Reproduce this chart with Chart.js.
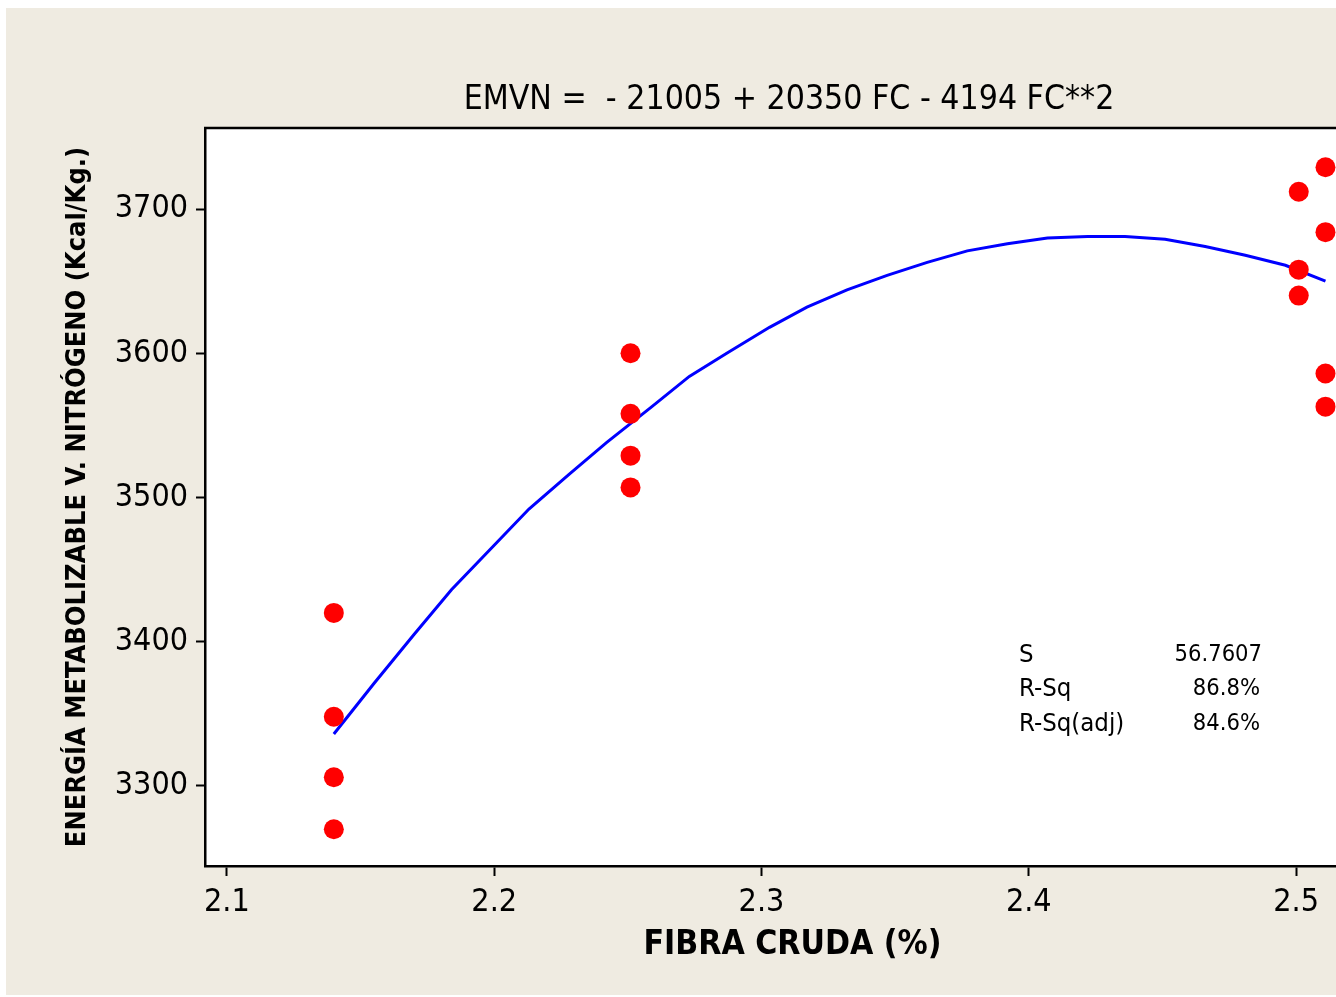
<!DOCTYPE html>
<html>
<head>
<meta charset="utf-8">
<script src="https://cdn.jsdelivr.net/npm/chart.js@4/dist/chart.umd.min.js"></script>
<style>
  html, body { margin: 0; padding: 0; background: #ffffff; overflow: hidden; }
  #wrap { position: absolute; left: 0; top: 0; width: 1390px; height: 997px; }
</style>
</head>
<body>
<div id="wrap"><canvas id="chart" width="1390" height="997"></canvas></div>
<script>
// observed points (fibra cruda %, EMVN kcal/kg)
const obsX = [2.14, 2.14, 2.14, 2.14, 2.251, 2.251, 2.251, 2.251, 2.501, 2.501, 2.501, 2.511, 2.511, 2.511, 2.511];
const obsY = [3420, 3348, 3306, 3270, 3600, 3558, 3529, 3507, 3712, 3658, 3640, 3729, 3684, 3586, 3563];

// fitted curve
const fitX = [2.140, 2.155, 2.170, 2.184, 2.199, 2.213, 2.228, 2.242, 2.259, 2.273, 2.287, 2.303, 2.317, 2.332, 2.347, 2.362, 2.377, 2.392, 2.407, 2.422, 2.436, 2.451, 2.466, 2.481, 2.496, 2.511];
const fitY = [3336, 3371, 3405, 3436, 3465, 3492, 3516, 3538, 3563, 3584, 3600, 3618, 3632, 3644, 3654, 3663, 3671, 3676, 3680, 3681, 3681, 3679, 3674, 3668, 3661, 3650];

const xTicks = [2.1, 2.2, 2.3, 2.4, 2.5];
const yTicks = [3300, 3400, 3500, 3600, 3700];

const titleText = "EMVN =  - 21005 + 20350 FC - 4194 FC**2";
const statLabels = ["S", "R-Sq", "R-Sq(adj)"];
const statValues = ["56.7607", "86.8%", "84.6%"];

const FONT = "'DejaVu Sans Condensed', 'DejaVu Sans', sans-serif";

const backgroundPlugin = {
    id: 'bg',
    beforeDraw(chart) {
        const ctx = chart.ctx;
        const a = chart.chartArea;
        ctx.save();
        ctx.fillStyle = '#ffffff';
        ctx.fillRect(0, 0, chart.width, chart.height);
        ctx.fillStyle = '#efebe1';
        ctx.fillRect(6, 8, chart.width - 6, 987);
        ctx.fillStyle = '#ffffff';
        ctx.fillRect(a.left, a.top, a.right - a.left, a.bottom - a.top);
        ctx.restore();
    }
};

const extrasPlugin = {
    id: 'extras',
    afterDraw(chart) {
        const ctx = chart.ctx;
        const a = chart.chartArea;
        ctx.save();
        // frame top + right
        ctx.strokeStyle = '#000000';
        ctx.lineWidth = 2.5;
        ctx.beginPath();
        ctx.moveTo(a.left - 1, a.top);
        ctx.lineTo(a.right, a.top);
        ctx.lineTo(a.right, a.bottom);
        ctx.stroke();

        // title
        ctx.fillStyle = '#000000';
        ctx.font = "33.5px " + FONT;
        ctx.textAlign = 'center';
        ctx.textBaseline = 'middle';
        ctx.fillText(titleText, 789, 100);

        // fit summary
        const rows = [655, 689, 724];
        statLabels.forEach((s, i) => {
            ctx.font = "25.5px " + FONT;
            ctx.textAlign = 'left';
            ctx.fillText(s, 1019, rows[i]);
            ctx.font = "23.5px " + FONT;
            ctx.textAlign = 'right';
            ctx.fillText(statValues[i], i === 0 ? 1262 : 1260, rows[i]);
        });
        ctx.restore();
    }
};

const pointsData = obsX.map((x, i) => ({ x: x, y: obsY[i] }));
const curveData = fitX.map((x, i) => ({ x: x, y: fitY[i] }));

new Chart(document.getElementById('chart'), {
    type: 'scatter',
    data: {
        datasets: [{
            label: 'Observado',
            data: pointsData,
            order: 0,
            pointRadius: 10,
            pointHoverRadius: 10,
            pointBackgroundColor: '#ff0000',
            pointBorderWidth: 0,
            borderColor: '#ff0000'
        }, {
            label: 'Ajuste',
            data: curveData,
            order: 1,
            showLine: true,
            pointRadius: 0,
            borderColor: '#0000ff',
            borderWidth: 3,
            tension: 0
        }]
    },
    options: {
        responsive: false,
        animation: false,
        layout: { padding: { left: 0, top: 128, right: 9, bottom: 0 } },
        plugins: {
            legend: { display: false },
            tooltip: { enabled: false }
        },
        scales: {
            x: {
                type: 'linear',
                min: 2.0918,
                max: 2.5314,
                afterFit: s => { s.height = 131; },
                afterBuildTicks: s => { s.ticks = xTicks.map(v => ({ value: v })); },
                grid: { drawOnChartArea: false, drawTicks: true, tickLength: 10, tickWidth: 2, tickColor: '#000000' },
                border: { display: true, color: '#000000', width: 2.5 },
                ticks: {
                    color: '#000000',
                    padding: 7,
                    maxRotation: 0,
                    font: { family: FONT, size: 32, lineHeight: 1.2 },
                    callback: v => v.toFixed(1)
                },
                title: {
                    display: true,
                    text: 'FIBRA CRUDA (%)',
                    color: '#000000',
                    font: { family: FONT, size: 33.5, weight: 'bold', lineHeight: 1.2 },
                    padding: { top: 0, bottom: 32 }
                }
            },
            y: {
                type: 'linear',
                min: 3244.5,
                max: 3756.2,
                afterFit: s => { s.width = 205; },
                afterBuildTicks: s => { s.ticks = yTicks.map(v => ({ value: v })); },
                grid: { drawOnChartArea: false, drawTicks: true, tickLength: 9, tickWidth: 2, tickColor: '#000000' },
                border: { display: true, color: '#000000', width: 2.5 },
                ticks: {
                    color: '#000000',
                    padding: 8,
                    font: { family: FONT, size: 32, lineHeight: 1.2 },
                    callback: v => String(v)
                },
                title: {
                    display: true,
                    text: 'ENERGÍA METABOLIZABLE V. NITRÓGENO (Kcal/Kg.)',
                    color: '#000000',
                    font: { family: FONT, size: 27, weight: 'bold', lineHeight: 1.2 },
                    padding: { top: 62, bottom: 0 }
                }
            }
        }
    },
    plugins: [backgroundPlugin, extrasPlugin]
});
</script>
</body>
</html>
